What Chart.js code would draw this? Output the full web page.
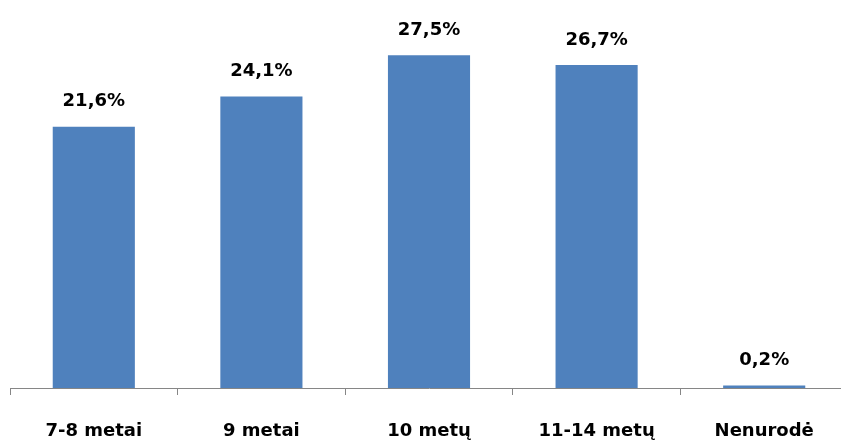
<!DOCTYPE html>
<html>
<head>
<meta charset="utf-8">
<script src="https://cdn.jsdelivr.net/npm/chart.js"></script>
<style>
  html, body { margin: 0; padding: 0; background: #fff; overflow: hidden; }
  #wrap { position: relative; width: 848px; height: 443px; }
</style>
</head>
<body>
<div id="wrap"><canvas id="ageChart"></canvas></div>
<script>
// Duomenys
var categories = ['7-8 metai', '9 metai', '10 metų', '11-14 metų', 'Nenurodė'];
var shares = [21.6, 24.1, 27.5, 26.7, 0.2];
var yMax = 30;

var barColor = '#4F81BD';
var labelFont = 'bold 18px "DejaVu Sans", sans-serif';

function fmt(v) {
    return v.toFixed(1).replace('.', ',') + '%';
}

// Reikšmės virš stulpelių
var valueLabels = {
    id: 'valueLabels',
    afterDatasetsDraw: function(chart) {
        var ctx = chart.ctx;
        var meta = chart.getDatasetMeta(0);
        ctx.save();
        ctx.font = labelFont;
        ctx.fillStyle = '#000';
        ctx.textAlign = 'center';
        ctx.textBaseline = 'middle';
        meta.data.forEach(function(bar, i) {
            ctx.fillText(fmt(shares[i]), bar.x, bar.y - 25);
        });
        ctx.restore();
    }
};

new Chart(document.getElementById('ageChart'), {
    type: 'bar',
    data: {
        labels: categories,
        datasets: [{
            data: shares,
            backgroundColor: barColor,
            borderWidth: 0,
            barPercentage: 0.98,
            categoryPercentage: 0.5
        }]
    },
    options: {
        responsive: true,
        maintainAspectRatio: false,
        animation: false,
        layout: { padding: { top: 25, left: 10, right: 0, bottom: 0 } },
        plugins: {
            legend: { display: false },
            tooltip: { enabled: false }
        },
        scales: {
            y: {
                display: false,
                min: 0,
                max: yMax
            },
            x: {
                offset: true,
                border: { display: true, color: '#868686', width: 1 },
                grid: {
                    display: true,
                    offset: true,
                    drawOnChartArea: false,
                    drawTicks: true,
                    tickLength: 7,
                    color: '#868686'
                },
                ticks: {
                    color: '#000',
                    padding: 26,
                    maxRotation: 0,
                    font: { family: '"DejaVu Sans", sans-serif', size: 18, weight: 'bold' }
                },
                afterFit: function(scale) {
                    scale.height = 55;
                }
            }
        }
    },
    plugins: [valueLabels]
});
</script>
</body>
</html>
